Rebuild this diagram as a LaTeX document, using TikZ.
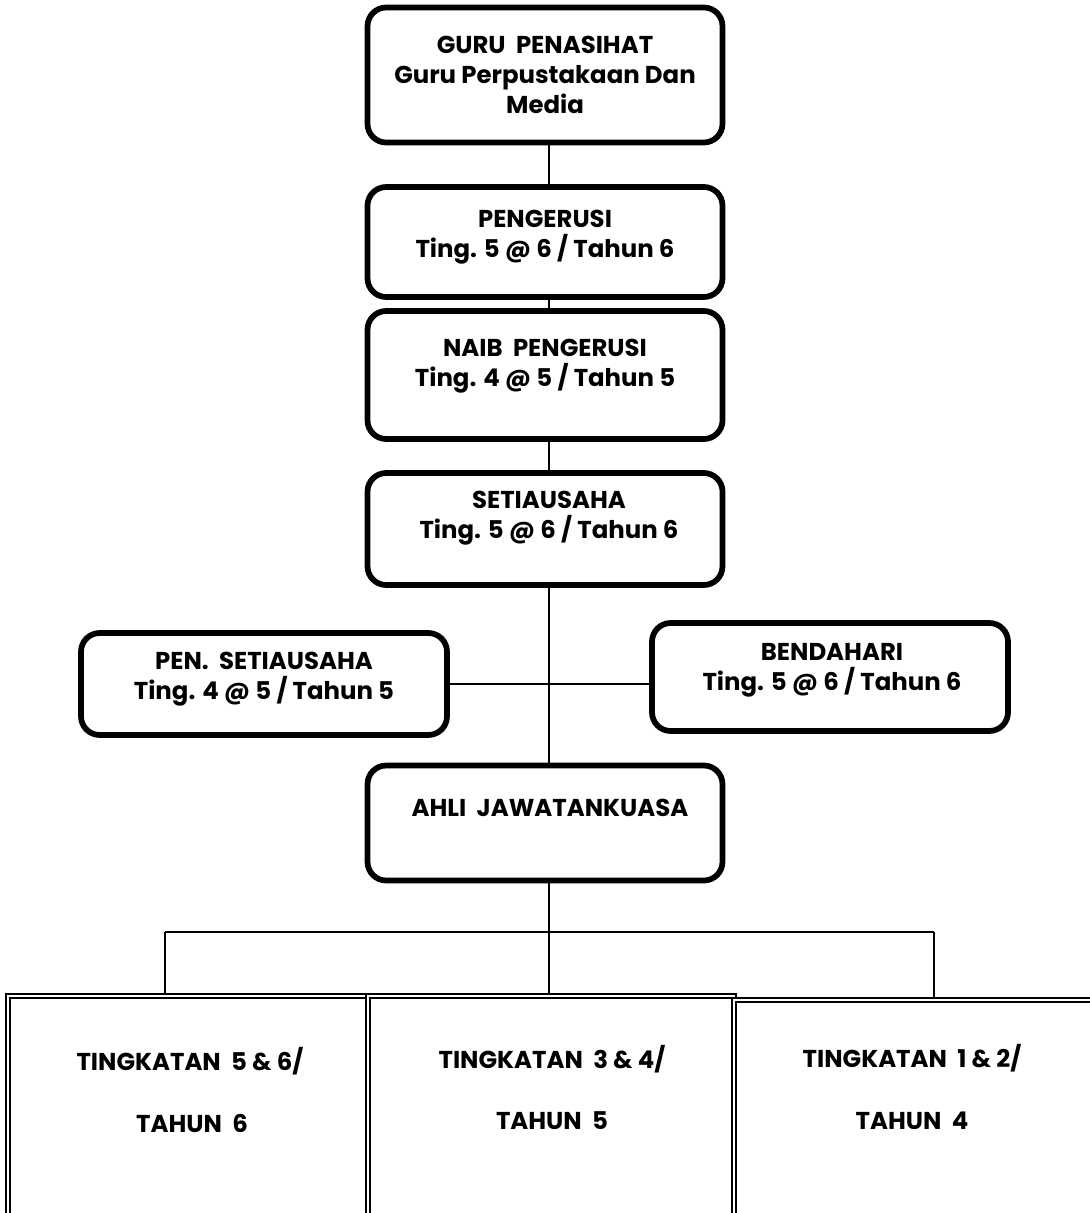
\documentclass[tikz,border=0pt]{standalone}
\usepackage{fontspec}
\setmainfont{Poppins}
\begin{document}
\begin{tikzpicture}[x=0.75pt,y=-0.75pt,
  rbox/.style={draw,line width=4.3pt,rounded corners=14pt,inner sep=0pt},
  dbox/.style={draw,double,line width=1.2pt,double distance=1.8pt,inner sep=0pt},
  lbl/.style={font=\bfseries\fontsize{18.3}{22.5}\selectfont,align=center,inner sep=0pt},
  conn/.style={line width=1.8pt}]
\useasboundingbox (0,0) rectangle (1089,1213);
% boxes
\node[rbox,minimum width=355*0.75pt,minimum height=135*0.75pt] (guru) at (545,75) {};
\node[rbox,minimum width=355*0.75pt,minimum height=110*0.75pt] (peng) at (545,242) {};
\node[rbox,minimum width=355*0.75pt,minimum height=128*0.75pt] (naib) at (545,375) {};
\node[rbox,minimum width=355*0.75pt,minimum height=112*0.75pt] (setia) at (545,529) {};
\node[rbox,minimum width=366*0.75pt,minimum height=102*0.75pt] (pen) at (264,684) {};
\node[rbox,minimum width=356*0.75pt,minimum height=108*0.75pt] (bend) at (830,677) {};
\node[rbox,minimum width=355*0.75pt,minimum height=115*0.75pt] (ahli) at (545,823) {};
\node[dbox,minimum width=360*0.75pt,minimum height=220*0.75pt] (t56) at (188,1106) {};
\node[dbox,minimum width=366*0.75pt,minimum height=220*0.75pt] (t34) at (551,1106) {};
\node[dbox,minimum width=360*0.75pt,minimum height=216*0.75pt] (t12) at (914,1108) {};
% labels
\node[lbl] (lguru) at (545,75) {GURU\ \ PENASIHAT\\Guru Perpustakaan Dan\\Media};
\node[lbl] (lpeng) at (545,237) {PENGERUSI\\Ting. 5 @ 6 / Tahun 6};
\node[lbl] (lnaib) at (545,366) {NAIB\ \ PENGERUSI\\Ting. 4 @ 5 / Tahun 5};
\node[lbl] (lsetia) at (549,518) {SETIAUSAHA\\Ting. 5 @ 6 / Tahun 6};
\node[lbl] (lpen) at (264,679) {PEN.\ \ SETIAUSAHA\\Ting. 4 @ 5 / Tahun 5};
\node[lbl] (lbend) at (832,670) {BENDAHARI\\Ting. 5 @ 6 / Tahun 6};
\node[lbl] (lahli) at (550,808) {AHLI\ \ JAWATANKUASA};
\node[lbl] (l56a) at (190,1061) {TINGKATAN\ \ 5 \& 6/};
\node[lbl] (l56b) at (192,1123) {TAHUN\ \ 6};
\node[lbl] (l34a) at (552,1059) {TINGKATAN\ \ 3 \& 4/};
\node[lbl] (l34b) at (552,1121) {TAHUN\ \ 5};
\node[lbl] (l12a) at (912,1058) {TINGKATAN\ \ 1 \& 2/};
\node[lbl] (l12b) at (912,1121) {TAHUN\ \ 4};
% connectors
\coordinate (j) at (549,932);
\coordinate (jl) at (165,932);
\coordinate (jr) at (934,932);
\draw[conn] (guru.south -| 549,0) -- (peng.north -| 549,0);
\draw[conn] (peng.south -| 549,0) -- (naib.north -| 549,0);
\draw[conn] (naib.south -| 549,0) -- (setia.north -| 549,0);
\draw[conn] (setia.south -| 549,0) -- (ahli.north -| 549,0);
\draw[conn] (pen.east) -- (pen.east -| bend.west);
\draw[conn] (ahli.south -| 549,0) -- (j) -- (t34.north -| 549,0);
\draw[conn] (jl) -- (jr);
\draw[conn] (jl) -- (t56.north -| jl);
\draw[conn] (jr) -- (t12.north -| jr);
\end{tikzpicture}
\end{document}
